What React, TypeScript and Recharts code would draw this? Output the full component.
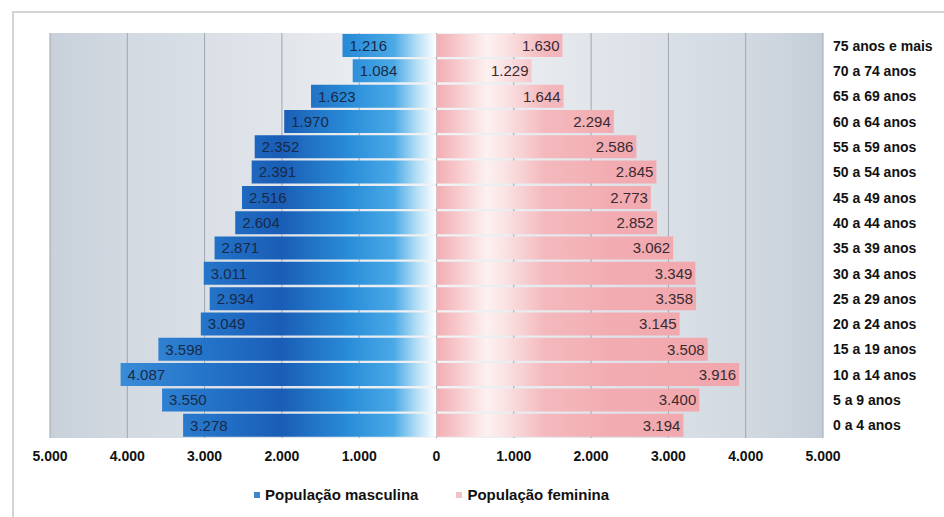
import { BarChart, Bar, XAxis, YAxis, CartesianGrid, LabelList } from 'recharts';

// faixas etárias, de cima para baixo
const faixas = [
  '75 anos e mais',
  '70 a 74 anos',
  '65 a 69 anos',
  '60 a 64 anos',
  '55 a 59 anos',
  '50 a 54 anos',
  '45 a 49 anos',
  '40 a 44 anos',
  '35 a 39 anos',
  '30 a 34 anos',
  '25 a 29 anos',
  '20 a 24 anos',
  '15 a 19 anos',
  '10 a 14 anos',
  '5 a 9 anos',
  '0 a 4 anos',
];

const masculina = [1216, 1084, 1623, 1970, 2352, 2391, 2516, 2604, 2871, 3011, 2934, 3049, 3598, 4087, 3550, 3278];
const feminina = [1630, 1229, 1644, 2294, 2586, 2845, 2773, 2852, 3062, 3349, 3358, 3145, 3508, 3916, 3400, 3194];

const xTicks = [-5000, -4000, -3000, -2000, -1000, 0, 1000, 2000, 3000, 4000, 5000];

const data = faixas.map((faixa, i) => ({
  faixa,
  masc: -masculina[i],
  fem: feminina[i],
}));

const fmt = (v: number) => String(Math.abs(v)).replace(/\B(?=(\d{3})+(?!\d))/g, '.');

const FONT = '"Liberation Sans", Arial, sans-serif';

const MascLabel = (props: any) => {
  const { x, y, width, height, value } = props;
  const left = Math.min(x, x + width);
  return (
    <text x={left + 7} y={y + height / 2} dy="0.36em" textAnchor="start" fontSize={15} fontFamily={FONT} fill="#182a48">
      {fmt(value)}
    </text>
  );
};

const FemLabel = (props: any) => {
  const { x, y, width, height, value } = props;
  const right = Math.max(x, x + width);
  return (
    <text x={right - 3} y={y + height / 2} dy="0.36em" textAnchor="end" fontSize={15} fontFamily={FONT} fill="#3a2a32">
      {fmt(value)}
    </text>
  );
};

const FaixaTick = (props: any) => {
  const { x, y, payload } = props;
  return (
    <text x={x} y={y} dy="0.36em" textAnchor="start" fontSize={14} fontWeight="bold" fontFamily={FONT} fill="#111">
      {payload.value}
    </text>
  );
};

export default function App() {
  return (
    <div style={{ position: 'absolute', left: 0, top: 0, width: 944, height: 517, background: '#fff', overflow: 'hidden' }}>
      <div style={{ position: 'absolute', left: 12, top: 11, right: -2, bottom: -2, borderLeft: '2px solid #d4d4d4', borderTop: '2px solid #d4d4d4' }} />
      <div style={{ position: 'absolute', left: 0, top: 0 }}>
        <BarChart
          width={944}
          height={517}
          data={data}
          layout="vertical"
          stackOffset="sign"
          barCategoryGap={1}
          margin={{ top: 33, right: 11, bottom: 49, left: 50 }}
        >
          <defs>
            <linearGradient id="fundo" gradientUnits="userSpaceOnUse" x1={50} y1={0} x2={823} y2={0}>
              <stop offset="0" stopColor="#c8d0da" />
              <stop offset="0.1" stopColor="#d2d9e1" />
              <stop offset="0.32" stopColor="#e3e7ec" />
              <stop offset="0.5" stopColor="#f1f3f5" />
              <stop offset="0.68" stopColor="#e3e7ec" />
              <stop offset="0.9" stopColor="#d2d9e1" />
              <stop offset="1" stopColor="#c5ced8" />
            </linearGradient>
            <linearGradient id="azul" gradientUnits="userSpaceOnUse" x1={50} y1={0} x2={436} y2={0}>
              <stop offset="0.18" stopColor="#3a8cd8" />
              <stop offset="0.4" stopColor="#2475ca" />
              <stop offset="0.6" stopColor="#1a5db6" />
              <stop offset="0.78" stopColor="#2a8ed9" />
              <stop offset="0.89" stopColor="#4aa9e6" />
              <stop offset="0.95" stopColor="#b4def5" />
              <stop offset="1" stopColor="#ffffff" />
            </linearGradient>
            <linearGradient id="rosa" gradientUnits="userSpaceOnUse" x1={436} y1={0} x2={823} y2={0}>
              <stop offset="0" stopColor="#f2adb2" />
              <stop offset="0.05" stopColor="#f6c6c9" />
              <stop offset="0.13" stopColor="#fdf1f1" />
              <stop offset="0.18" stopColor="#fae2e3" />
              <stop offset="0.28" stopColor="#f4b9bd" />
              <stop offset="0.45" stopColor="#f2acb1" />
              <stop offset="1" stopColor="#f0a3a9" />
            </linearGradient>
          </defs>
          <CartesianGrid horizontal={false} stroke="#9ea7b1" fill="url(#fundo)" fillOpacity={1} />
          <XAxis
            type="number"
            domain={[-5000, 5000]}
            ticks={xTicks}
            tickFormatter={fmt}
            axisLine={false}
            tickLine={false}
            tickSize={0}
            tickMargin={13}
            height={30}
            tick={{ fontSize: 14, fontWeight: 'bold', fontFamily: FONT, fill: '#111' }}
            interval={0}
          />
          <YAxis
            type="category"
            dataKey="faixa"
            orientation="right"
            width={110}
            axisLine={false}
            tickLine={false}
            tickSize={0}
            tickMargin={10}
            tick={<FaixaTick />}
            interval={0}
          />
          <Bar dataKey="masc" stackId="p" fill="url(#azul)" isAnimationActive={false}>
            <LabelList dataKey="masc" content={<MascLabel />} />
          </Bar>
          <Bar dataKey="fem" stackId="p" fill="url(#rosa)" isAnimationActive={false}>
            <LabelList dataKey="fem" content={<FemLabel />} />
          </Bar>
        </BarChart>
      </div>
      <div style={{ position: 'absolute', top: 486, left: 254, display: 'flex', alignItems: 'center', fontFamily: FONT, fontSize: 15, fontWeight: 'bold', color: '#111', whiteSpace: 'nowrap' }}>
        <span style={{ display: 'inline-block', width: 6, height: 6, background: '#3f86c9', marginRight: 5 }} />
        <span>População masculina</span>
        <span style={{ display: 'inline-block', width: 6, height: 6, background: '#efc2c6', marginLeft: 38, marginRight: 5 }} />
        <span>População feminina</span>
      </div>
    </div>
  );
}
